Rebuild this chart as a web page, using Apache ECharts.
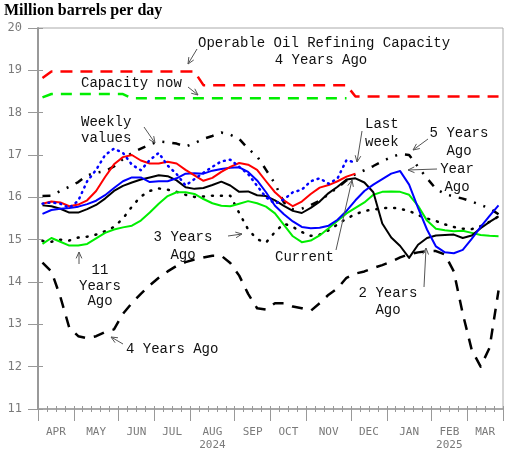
<!DOCTYPE html>
<html><head><meta charset="utf-8">
<script src="https://cdn.jsdelivr.net/npm/echarts@6.0.0/dist/echarts.min.js"></script>
<style>html,body{margin:0;padding:0;background:#fff}#c{width:508px;height:452px}</style>
</head><body><div id="c"></div>
<script>
// ---- data (weekly, Apr 2024 .. Mar 2025) ----
const monthBounds = [0,4,9,13,17,22,26,30,35,39,44,48,52];
const monthLabels = ['APR','MAY','JUN','JUL','AUG\n2024','SEP','OCT','NOV','DEC','JAN','FEB\n2025','MAR'];
const yMin = 11, yMax = 20, yStep = 1;

const currentAvg = [15.85,15.90,15.88,15.79,15.83,15.93,16.15,16.48,16.78,16.95,17.00,16.87,16.80,16.80,16.84,16.80,16.65,16.52,16.39,16.46,16.60,16.72,16.81,16.77,16.65,16.38,16.12,15.93,15.79,15.90,16.08,16.23,16.29,16.38,16.49,16.56];
const weeklyValues = [15.85,15.88,15.85,15.75,15.92,16.38,16.65,17.00,17.15,17.05,16.77,16.64,16.88,17.05,16.75,16.55,16.28,16.43,16.58,16.72,16.85,16.89,16.72,16.55,16.27,16.00,15.85,15.95,16.12,16.18,16.38,16.45,16.32,16.45,16.88,16.82];
const yearAgo = [15.61,15.70,15.73,15.75,15.78,15.84,15.92,16.05,16.22,16.38,16.47,16.47,16.36,16.38,16.38,16.45,16.56,16.57,16.56,16.63,16.67,16.70,16.71,16.60,16.40,16.12,15.80,15.60,15.43,15.30,15.27,15.28,15.33,15.47,15.68,15.93,16.15,16.30,16.43,16.56,16.62,16.30,15.75,15.24,14.84,14.70,14.68,14.76,15.02,15.30,15.56,15.81];
const twoYearsAgo = [15.81,15.79,15.73,15.64,15.64,15.72,15.82,15.97,16.15,16.27,16.35,16.42,16.47,16.52,16.50,16.40,16.24,16.20,16.22,16.29,16.37,16.28,16.13,16.14,16.05,16.03,15.93,15.80,15.68,15.63,15.75,15.90,16.10,16.25,16.42,16.45,16.35,16.12,15.38,15.05,14.85,14.57,14.88,15.04,15.10,15.11,15.12,15.04,15.10,15.27,15.42,15.55];
const threeYearsAgo = [14.97,14.95,15.00,14.98,15.05,15.07,15.12,15.20,15.30,15.50,15.78,16.02,16.15,16.21,16.18,16.13,16.06,16.01,16.02,16.04,16.04,16.04,15.63,15.24,15.01,14.93,15.18,15.38,15.30,15.18,15.09,15.12,15.22,15.36,15.50,15.60,15.68,15.71,15.74,15.76,15.73,15.68,15.58,15.50,15.44,15.36,15.30,15.26,15.25,15.32,15.42,15.55];
const fourYearsAgo = [14.46,14.25,13.65,12.92,12.72,12.67,12.72,12.82,12.88,13.25,13.50,13.72,13.92,14.10,14.25,14.38,14.47,14.53,14.58,14.62,14.62,14.45,14.15,13.72,13.38,13.35,13.50,13.50,13.42,13.38,13.32,13.50,13.70,13.85,14.10,14.20,14.25,14.33,14.40,14.48,14.58,14.66,14.70,14.73,14.73,14.65,14.25,13.25,12.40,12.00,12.45,13.80];
const fiveYearsAgo = [16.03,16.04,16.15,16.25,16.36,16.52,16.58,16.62,16.73,16.90,17.05,17.15,17.25,17.32,17.30,17.27,17.20,17.28,17.38,17.45,17.53,17.48,17.38,17.15,16.97,16.65,16.32,15.88,15.72,15.73,15.82,15.92,16.07,16.23,16.40,16.55,16.64,16.74,16.85,16.95,17.02,17.00,16.72,16.45,16.20,16.08,16.02,15.97,15.90,15.82,15.74,15.60];
const elevenYearsAgo = [14.90,15.04,14.95,14.86,14.86,14.90,15.03,15.16,15.24,15.29,15.33,15.45,15.64,15.85,16.03,16.12,16.12,16.08,15.96,15.86,15.80,15.79,15.85,15.91,15.86,15.78,15.62,15.35,15.08,14.94,14.98,15.10,15.27,15.45,15.62,15.75,15.88,16.06,16.13,16.14,16.13,16.06,15.80,15.45,15.26,15.22,15.20,15.21,15.16,15.11,15.09,15.08];
const capacityFourYearsAgo = [18.82,18.97,18.97,18.97,18.97,18.97,18.97,18.97,18.97,18.97,18.97,18.97,18.97,18.97,18.97,18.97,18.97,18.97,18.65,18.65,18.65,18.65,18.65,18.65,18.65,18.65,18.65,18.65,18.65,18.65,18.65,18.65,18.65,18.65,18.65,18.38,18.38,18.38,18.38,18.38,18.38,18.38,18.38,18.38,18.38,18.38,18.38,18.38,18.38,18.38,18.38,18.38];
const capacityNow = [18.36,18.44,18.44,18.44,18.44,18.44,18.44,18.44,18.44,18.44,18.34,18.34,18.34,18.34,18.34,18.34,18.34,18.34,18.34,18.34,18.34,18.34,18.34,18.34,18.34,18.34,18.34,18.34,18.34,18.34,18.34,18.34,18.34,18.34,18.34];

// ---- helpers ----
const weeks = [];
for (let i = 0; i <= monthBounds[monthBounds.length - 1]; i++) weeks.push(i);
const monthMids = monthLabels.map((_, j) => (monthBounds[j] + monthBounds[j + 1]) / 2);
const toXY = arr => arr.map((v, i) => [i + 0.5, v]);

const AX = '#999';
const axisFont = '"DejaVu Sans Mono", monospace';
const noteFont = '14px "Liberation Mono", monospace';

function line(name, data, color, type, width, cap, z) {
  return { name, type: 'line', data: toXY(data), symbol: 'none', z: z || 2,
    lineStyle: { color, width, type, cap: cap || 'butt', join: 'round' }, silent: true, animation: false };
}

function arrow(x1, y1, x2, y2) {
  const dx = x2 - x1, dy = y2 - y1, len = Math.hypot(dx, dy);
  const bx = -dx / len, by = -dy / len, L = 7, a = 0.42, c = Math.cos(a), s = Math.sin(a);
  const p1 = [x2 + L * (bx * c - by * s), y2 + L * (bx * s + by * c)];
  const p2 = [x2 + L * (bx * c + by * s), y2 + L * (-bx * s + by * c)];
  return [
    { type: 'line', z: 100, shape: { x1, y1, x2, y2 }, style: { stroke: '#555', lineWidth: 1 } },
    { type: 'polyline', z: 100, shape: { points: [p1, [x2, y2], p2] }, style: { stroke: '#555', lineWidth: 1, fill: null } }
  ];
}
function note(text, x, y, align, lh) {
  return { type: 'text', z: 100, style: { text, x, y, font: noteFont, fill: '#111',
    align: align || 'left', textAlign: align || 'left', verticalAlign: 'middle', textVerticalAlign: 'middle', lineHeight: lh || 18 } };
}

const xBase = { type: 'value', min: 0, max: monthBounds[monthBounds.length - 1], gridIndex: 0, splitLine: { show: false } };
const yBase = { type: 'value', min: yMin, max: yMax, interval: yStep, splitLine: { show: false } };

const chart = echarts.init(document.getElementById('c'), null, { renderer: 'canvas' });
chart.setOption({
  animation: false,
  backgroundColor: '#fff',
  grid: { left: 38, top: 28, width: 465, height: 382, show: true, borderColor: '#aaa', borderWidth: 1, backgroundColor: 'transparent' },
  xAxis: [
    Object.assign({}, xBase, {
      axisLine: { show: true, lineStyle: { color: AX, width: 1.5 } },
      axisTick: { show: true, length: 3, customValues: weeks, lineStyle: { color: AX } },
      axisLabel: { show: true, customValues: monthMids, margin: 17, color: '#7a7a7a', fontFamily: axisFont, fontSize: 11, lineHeight: 13,
        formatter: v => { const j = monthMids.indexOf(v); return j >= 0 ? monthLabels[j] : ''; } }
    }),
    Object.assign({}, xBase, {
      position: 'bottom', axisLine: { show: false },
      axisTick: { show: true, inside: true, length: 3, customValues: weeks, lineStyle: { color: AX } },
      axisLabel: { show: false }
    }),
    Object.assign({}, xBase, {
      position: 'bottom', axisLine: { show: false },
      axisTick: { show: true, length: 12, customValues: monthBounds, lineStyle: { color: AX } },
      axisLabel: { show: false }
    })
  ],
  yAxis: [
    Object.assign({}, yBase, {
      axisLine: { show: true, lineStyle: { color: AX, width: 2 } },
      axisTick: { show: true, length: 10, lineStyle: { color: AX } },
      axisLabel: { show: true, margin: 16, color: '#7a7a7a', fontFamily: axisFont, fontSize: 12 }
    }),
    Object.assign({}, yBase, {
      position: 'left', axisLine: { show: false },
      axisTick: { show: true, inside: true, length: 5, lineStyle: { color: AX } },
      axisLabel: { show: false }
    })
  ],
  series: [
    line('Operable capacity 4 years ago', capacityFourYearsAgo, '#ff0000', [12, 8], 2.5),
    line('Capacity now', capacityNow, '#00ee00', [11, 8], 2.5),
    line('4 Years Ago', fourYearsAgo, '#000', [11, 9], 2.5),
    line('5 Years Ago', fiveYearsAgo, '#000', [8, 8, 2, 8, 2, 8], 2.5),
    line('3 Years Ago', threeYearsAgo, '#000', [1, 8], 2.5, 'round'),
    line('11 Years Ago', elevenYearsAgo, '#00ee00', 'solid', 2),
    line('2 Years Ago', twoYearsAgo, '#000', 'solid', 2, 'butt', 3),
    line('Year Ago', yearAgo, '#0000ff', 'solid', 2, 'butt', 3),
    line('Current', currentAvg, '#ff0000', 'solid', 2, 'butt', 4),
    line('Weekly values', weeklyValues, '#0000ff', [1, 5], 2.5, 'round', 5)
  ],
  graphic: { elements: [
    { type: 'text', z: 100, style: { text: 'Million barrels per day', x: 4, y: 3, font: 'bold 16px "Liberation Serif", serif', fill: '#000' } },
    note('Operable Oil Refining Capacity', 198, 43),
    note('4 Years Ago', 321, 60, 'center'),
    note('Capacity now', 81, 83),
    note('Weekly\nvalues', 81, 130, 'left', 16),
    note('3 Years\nAgo', 183, 246, 'center', 18),
    note('11\nYears\nAgo', 100, 286, 'center', 15.5),
    note('4 Years Ago', 126, 349),
    note('Last\nweek', 365, 133, 'left', 18),
    note('5 Years\nAgo', 459, 142, 'center', 18),
    note('Year\nAgo', 457, 178, 'center', 18),
    note('Current', 275, 257),
    note('2 Years\nAgo', 388, 302, 'center', 17),
    ...arrow(197, 49, 188, 64),
    ...arrow(188, 87, 198, 95),
    ...arrow(144, 127, 155, 143),
    ...arrow(228, 236, 242, 234),
    ...arrow(79, 264, 79, 252),
    ...arrow(123, 344, 111, 337),
    ...arrow(362, 131, 357, 162),
    ...arrow(428, 139, 413, 150),
    ...arrow(437, 169, 408, 170),
    ...arrow(336, 250, 352, 180),
    ...arrow(424, 287, 426, 248)
  ] }
});
</script>
</body></html>
